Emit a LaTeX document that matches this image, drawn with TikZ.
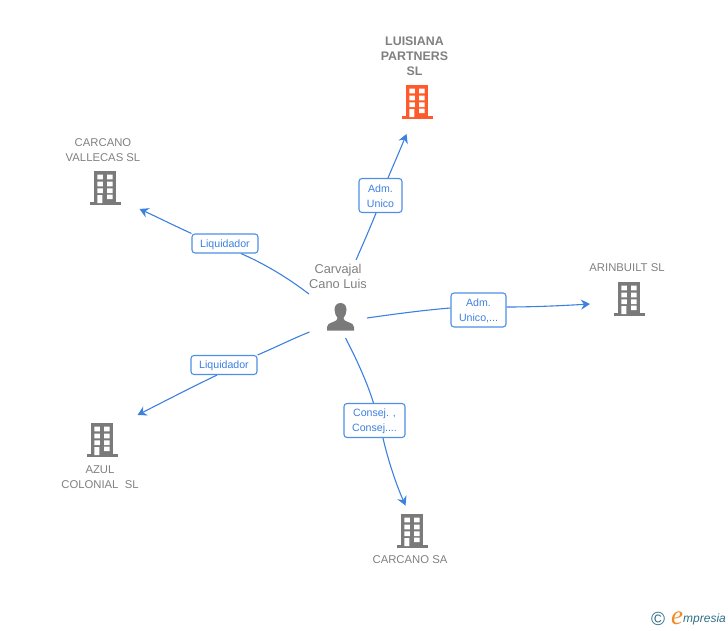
\documentclass[tikz,border=0pt]{standalone}
\usepackage{fontspec}
\setmainfont{Liberation Sans}
\newfontfamily\logoserif{Liberation Serif}
\usetikzlibrary{arrows.meta}
\definecolor{linkblue}{HTML}{3C80E0}
\definecolor{boxblue}{HTML}{4F8FE6}
\definecolor{icongrey}{HTML}{7A7A7A}
\definecolor{textgrey}{HTML}{808080}
\definecolor{accent}{HTML}{FF5A2B}
\definecolor{logoteal}{HTML}{2F6F86}
\definecolor{logoorange}{HTML}{F08A24}
\newcommand{\rolestrut}{\rule{0pt}{9.7pt}}
\tikzset{
  x=1pt,y=-1pt,
  rolebox/.style={draw=boxblue,line width=1.1pt,rounded corners=3pt,fill=white,text=linkblue,
    font=\fontsize{10.6}{15}\selectfont,align=center,inner sep=0pt,minimum height=#1},
  rolebox/.default=34pt,
  link/.style={draw=linkblue,line width=1.1pt},
  tip/.style={link,-{Stealth[length=9pt,width=10pt,inset=3pt]}},
  company/.style={text=textgrey,font=\fontsize{11.3}{15}\selectfont,align=center,inner sep=0pt},
  mainco/.style={text=textgrey,font=\fontsize{12.4}{15}\bfseries\selectfont,align=center,inner sep=0pt},
  person/.style={text=textgrey,font=\fontsize{12.8}{15}\selectfont,align=center,inner sep=0pt},
  building/.pic={
    \fill[pic actions] (-11,0) rectangle (11,32);
    \fill[pic actions] (-15.5,31) rectangle (15.5,34);
    \fill[white] \foreach \r in {3.6,10.6,17.4}{ (-7.6,\r) rectangle ++(5.4,4.8) (2.2,\r) rectangle ++(5.4,4.8) }
      (2.2,23.6) rectangle ++(5.4,4.6) (-7.6,24) rectangle ++(5,8);
  },
}
\begin{document}
\begin{tikzpicture}
\useasboundingbox (0,0) rectangle (728,630);

% buildings
\path (417,85) pic[fill=accent] {building};
\path (105,171) pic[fill=icongrey] {building};
\path (629,282) pic[fill=icongrey] {building};
\path (102,423) pic[fill=icongrey] {building};
\path (412,514) pic[fill=icongrey] {building};

% person icon
\fill[icongrey] (340.5,303) .. controls (336.5,303) and (334.5,306) .. (334.5,310)
  .. controls (334.5,313) and (336,316) .. (337.5,318)
  .. controls (337.5,320) and (336,321) .. (333,322)
  .. controls (329,323.5) and (327,324.5) .. (327,327) -- (327,330.5) -- (354,330.5) -- (354,327)
  .. controls (354,324.5) and (352,323.5) .. (348,322)
  .. controls (345,321) and (343.5,320) .. (343.5,318)
  .. controls (345,316) and (346.5,313) .. (346.5,310)
  .. controls (346.5,306) and (344.5,303) .. (340.5,303) -- cycle;

% texts
\node[mainco] (luisiana) at (414.5,56) {LUISIANA\\PARTNERS\\SL};
\node[company] (vallecas) at (103,150) {CARCANO\\VALLECAS SL};
\node[company] (arinbuilt) at (627,268) {ARINBUILT SL};
\node[company] (azul) at (100,477) {AZUL\\COLONIAL\ \ SL};
\node[company] (carcanosa) at (410,560) {CARCANO SA};
\node[person] (carvajal) at (338,276.5) {Carvajal\\Cano Luis};

% free ends
\coordinate (sTop) at (356,260);
\coordinate (eTop) at (406.5,134);
\coordinate (sRight) at (367,318);
\coordinate (eRight) at (590,304);
\coordinate (sUL) at (309,294);
\coordinate (eUL) at (139.5,209);
\coordinate (sLL) at (309.5,332);
\coordinate (eLL) at (137.5,415);
\coordinate (sBot) at (345.5,338);
\coordinate (eBot) at (405.5,505.5);

% role boxes
\node[rolebox,minimum width=43pt] (rTop) at (380.5,195.5) {\rolestrut Adm.\\Unico};
\node[rolebox,minimum width=55pt] (rRight) at (478.5,310) {\rolestrut Adm.\\Unico,...};
\node[rolebox=19pt,minimum width=66pt] (rUL) at (225,243.5) {\rolestrut Liquidador};
\node[rolebox=19pt,minimum width=66pt] (rLL) at (224,365) {\rolestrut Liquidador};
\node[rolebox,minimum width=61pt] (rBot) at (374.5,420.5) {\rolestrut Consej. ,\\Consej....};

% connectors
\draw[link] (sTop) .. controls (363,244) and (370,228) .. ([xshift=-4.5pt]rTop.south);
\draw[tip] ([xshift=7.5pt]rTop.north) .. controls (393,166) and (400,150) .. (eTop);
\draw[link] (sRight) .. controls (395,314) and (425,310) .. ([yshift=2pt]rRight.west);
\draw[tip] ([yshift=3pt]rRight.east) .. controls (535,307) and (565,305.5) .. (eRight);
\draw[link] (sUL) .. controls (288,278) and (265,264) .. ([xshift=16pt]rUL.south);
\draw[tip] (rUL.north west) .. controls (175,226) and (157,217) .. (eUL);
\draw[link] (sLL) .. controls (292,339) and (274,348) .. (rLL.north east);
\draw[tip] ([xshift=-7pt]rLL.south) .. controls (190,388) and (165,401) .. (eLL);
\draw[link] (sBot) .. controls (356,358) and (367,382) .. ([xshift=-1pt]rBot.north);
\draw[tip] ([xshift=8.5pt]rBot.south) .. controls (388,460) and (396,484) .. (eBot);

% logo
\node[text=logoteal,font=\fontsize{19}{19}\selectfont,inner sep=0pt] (logoc) at (658,619) {©};
\node[text=logoorange,font=\logoserif\fontsize{27}{27}\itshape\selectfont,inner sep=0pt] (logoe) at (677,618) {e};
\node[text=logoteal,font=\fontsize{12}{12}\itshape\selectfont,inner sep=0pt,anchor=west] (logot) at (683,619) {mpresia};
\end{tikzpicture}
\end{document}
